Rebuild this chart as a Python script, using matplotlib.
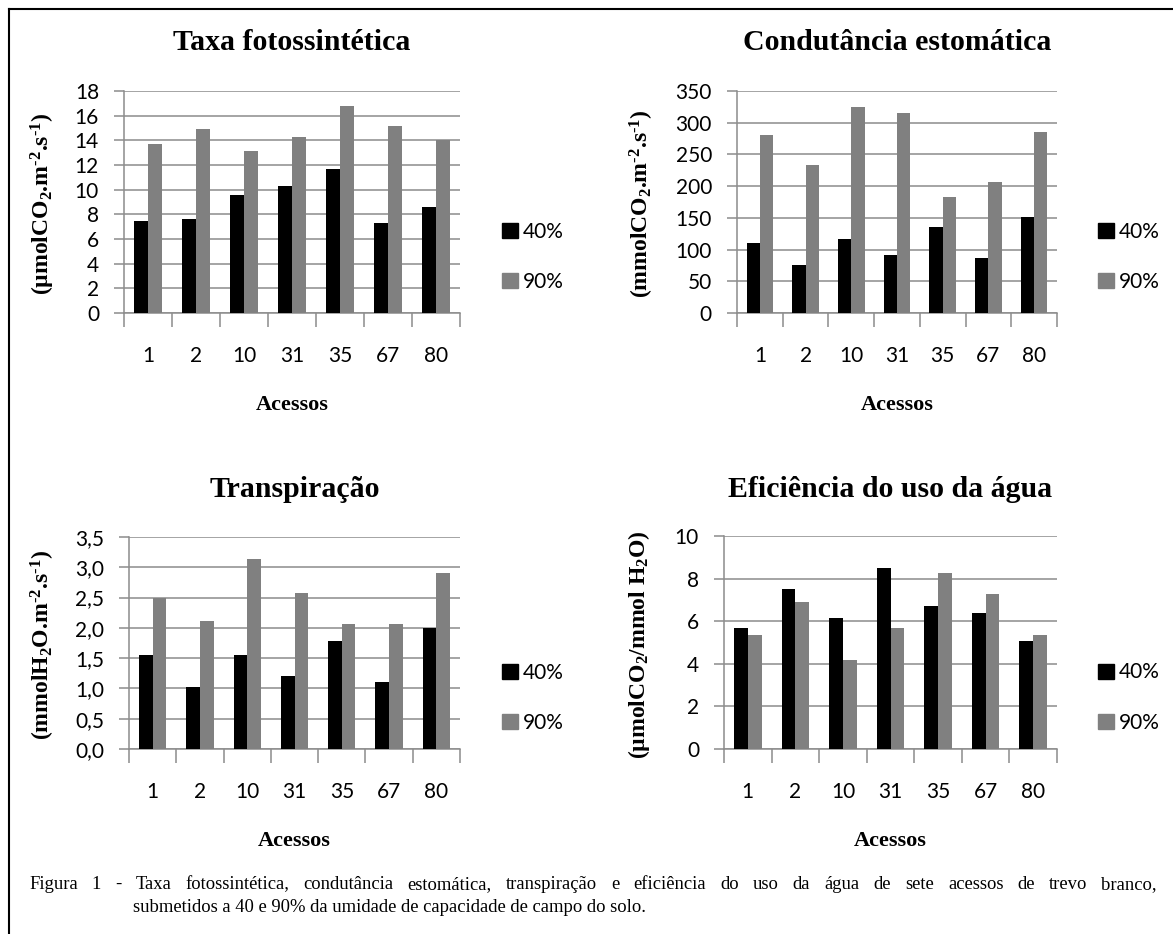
import matplotlib
matplotlib.use('Agg')
import matplotlib.pyplot as plt
import numpy as np
from matplotlib.patches import Patch
from matplotlib.lines import Line2D

plt.rcParams['mathtext.default'] = 'regular'

acessos = ['1', '2', '10', '31', '35', '67', '80']
series_labels = ['40%', '90%']

# Taxa fotossintética
taxa_40 = [7.5, 7.6, 9.6, 10.3, 11.7, 7.3, 8.6]
taxa_90 = [13.7, 14.9, 13.1, 14.3, 16.8, 15.2, 14.0]

# Condutância estomática
cond_40 = [111, 75, 117, 91, 135, 87, 152]
cond_90 = [281, 233, 324, 315, 183, 207, 286]

# Transpiração
transp_40 = [1.55, 1.02, 1.55, 1.20, 1.78, 1.10, 2.00]
transp_90 = [2.50, 2.12, 3.14, 2.58, 2.06, 2.06, 2.90]

# Eficiência do uso da água
efic_40 = [5.7, 7.5, 6.15, 8.5, 6.7, 6.4, 5.05]
efic_90 = [5.35, 6.9, 4.2, 5.7, 8.25, 7.3, 5.35]

HY = '\u2010'  # short hyphen as in the original labels
titles = ['Taxa fotossintética', 'Condutância estomática',
          'Transpiração', 'Eficiência do uso da água']
ylabels = ['(µmolCO$_2$.m$^{' + HY + '2}$.s$^{' + HY + '1}$)',
           '(mmolCO$_2$.m$^{' + HY + '2}$.s$^{' + HY + '1}$)',
           '(mmolH$_2$O.m$^{' + HY + '2}$.s$^{' + HY + '1}$)',
           '(µmolCO$_2$/mmol H$_2$O)']
xlabel = 'Acessos'
caption1 = ('Figura 1 - Taxa fotossintética, condutância estomática, transpiração e eficiência '
            'do uso da água de sete acessos de trevo branco,')
caption2 = 'submetidos a 40 e 90% da umidade de capacidade de campo do solo.'

W, H = 1173, 934
fig = plt.figure(figsize=(W / 100, H / 100), dpi=100)

BLACK = '#000000'
GREY = '#808080'
LINE = '#8c8c8c'
TICKFONT = 'Lato'
SERIF = 'Liberation Serif'


def fx(x):
    return x / W


def fy(y):
    return 1 - y / H


# (axes box l, t, r, b in px), data, ymax, step, decimals, title baseline,
# ylabel x, legend square x
panels = [
    ((124, 91, 460, 313), taxa_40, taxa_90, 18, 2, 0, 50, 43, 502),
    ((737, 91, 1057, 313), cond_40, cond_90, 350, 50, 0, 50, 642, 1098),
    ((129, 537, 460, 749), transp_40, transp_90, 3.5, 0.5, 1, 497, 43, 502),
    ((724, 536, 1057, 749), efic_40, efic_90, 10, 2, 0, 497, 639, 1098),
]

x = np.arange(len(acessos))
bw = 0.29

for i, (box, v40, v90, ymax, step, dec, tb, ylx, legx) in enumerate(panels):
    l, t, r, b = box
    ax = fig.add_axes([fx(l), fy(b), (r - l) / W, (b - t) / H])
    ax.bar(x - bw / 2, v40, bw, color=BLACK, zorder=3)
    ax.bar(x + bw / 2, v90, bw, color=GREY, zorder=3)
    ax.set_xlim(-0.5, len(acessos) - 0.5)
    ax.set_ylim(0, ymax)

    yt = np.arange(0, ymax + step / 2, step)
    ax.set_yticks(yt)
    if dec:
        ax.set_yticklabels([f'{v:.1f}'.replace('.', ',') for v in yt])
    else:
        ax.set_yticklabels([f'{v:g}' for v in yt])
    ax.yaxis.grid(True, color=LINE, lw=1.1)
    ax.set_axisbelow(True)

    ax.set_xticks(np.arange(-0.5, len(acessos), 1))
    ax.set_xticklabels([])
    ax.set_xticks(x, minor=True)
    ax.set_xticklabels(acessos, minor=True)
    ax.tick_params(axis='x', which='major', length=10, color=LINE, width=1.1)
    ax.tick_params(axis='x', which='minor', length=0, pad=24)
    ax.tick_params(axis='y', length=7, color=LINE, width=1.1, pad=11)
    for lab in ax.get_xticklabels(minor=True) + ax.get_yticklabels():
        lab.set_fontfamily(TICKFONT)
        lab.set_fontsize(15)

    for s in ['top', 'right']:
        ax.spines[s].set_visible(False)
    for s in ['left', 'bottom']:
        ax.spines[s].set_color(LINE)
        ax.spines[s].set_linewidth(1.1)

    cx = (l + r) / 2
    fig.text(fx(cx), fy(tb), titles[i], ha='center', va='baseline',
             family=SERIF, weight='bold', fontsize=21.5)
    fig.text(fx(cx), fy(b + 97), xlabel, ha='center', va='baseline',
             family=SERIF, weight='bold', fontsize=16)
    fig.text(fx(ylx), fy((t + b) / 2 + 2), ylabels[i], ha='center', va='center',
             rotation=90, family=SERIF, weight='bold', fontsize=17)

    handles = [Patch(color=BLACK), Patch(color=GREY)]
    ax.legend(handles, series_labels, loc='center left',
              bbox_to_anchor=(fx(legx), fy((t + b) / 2 + 55)),
              bbox_transform=fig.transFigure, frameon=False,
              handlelength=0.75, handleheight=0.75, handletextpad=0.25,
              labelspacing=1.45, borderpad=0, borderaxespad=0,
              prop={'family': TICKFONT, 'size': 15})

# caption: first line justified between the margins, second line indented
renderer = fig.canvas.get_renderer()
words = caption1.split(' ')
word_texts = [fig.text(0, fy(889), w, ha='left', va='baseline',
                       family=SERIF, fontsize=13.4) for w in words]
widths = [wt.get_window_extent(renderer).width for wt in word_texts]
x0, x1 = 29, 1157
gap = (x1 - x0 - sum(widths)) / (len(words) - 1)
xpos = x0
for wt, wd in zip(word_texts, widths):
    wt.set_x(fx(xpos))
    xpos += wd + gap
fig.text(fx(133), fy(912), caption2, ha='left', va='baseline',
         family=SERIF, fontsize=13.4)

fig.add_artist(Line2D([fx(9), fx(9)], [0, fy(9)], transform=fig.transFigure,
                      color='black', lw=1.5))
fig.add_artist(Line2D([fx(9), 1], [fy(9), fy(9)], transform=fig.transFigure,
                      color='black', lw=1.5))

fig.savefig('out.png', dpi=100)
